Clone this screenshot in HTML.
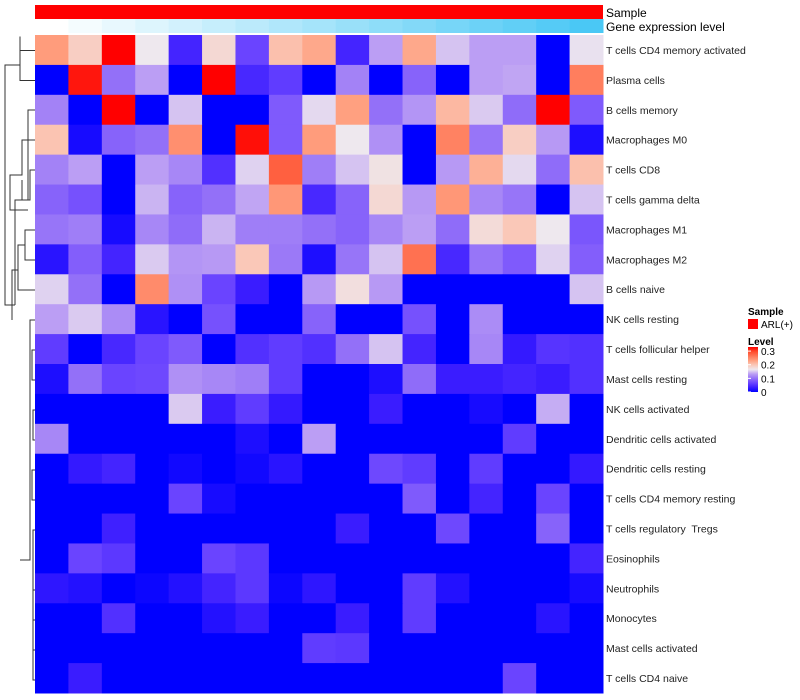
<!DOCTYPE html>
<html><head><meta charset="utf-8">
<style>
body{margin:0;background:#fff;}
svg{display:block;font-family:"Liberation Sans",sans-serif;}
text{white-space:pre;}
</style></head>
<body>
<svg id="chart" width="800" height="700">
<g id="dendro" stroke="#333" fill="none" stroke-width="1">
<path d="M35 50.5H20V36.5M20 50.5V80.5H35M20 65H5V305H15"/>
<path d="M35 110H28V200H15V305"/>
<path d="M35 140H22V175H10V210H28"/>
<path d="M35 170H30V200H22V180"/>
<path d="M35 230H25V260H35M25 245H18V290H35M18 270H12V320"/>
<path d="M35 320H30V560H20M35 350H32V380H35M35 410H33V440H35"/>
<path d="M35 470H32V500H35M35 530H33V680H35M35 590H33M35 620H33M35 650H33"/>
</g>
<g id="cells"></g>
<g id="annot"></g>
<g id="labels"></g>
<g id="legend"></g>
</svg>
<script>
const rowNames=["T cells CD4 memory activated","Plasma cells","B cells memory","Macrophages M0","T cells CD8","T cells gamma delta","Macrophages M1","Macrophages M2","B cells naive","NK cells resting","T cells follicular helper","Mast cells resting","NK cells activated","Dendritic cells activated","Dendritic cells resting","T cells CD4 memory resting","T cells regulatory  Tregs","Eosinophils","Neutrophils","Monocytes","Mast cells activated","T cells CD4 naive"];
const r1=[0.71,0.58,1,0.5,0.12,0.55,0.2,0.62,0.68,0.12,0.4,0.68,0.45,0.4,0.4,0,0.49];
const r2=[0,0.97,0.3,0.4,0,1,0.13,0.18,0,0.34,0,0.27,0,0.4,0.41,0,0.78];
const r3=[0.34,0,1,0,0.45,0,0,0.25,0.48,0.7,0.3,0.38,0.64,0.46,0.29,1,0.25];
const r4=[0.61,0.04,0.27,0.3,0.74,0,0.98,0.25,0.71,0.5,0.37,0,0.77,0.31,0.58,0.39,0.05];
const r5=[0.34,0.4,0,0.4,0.35,0.15,0.47,0.85,0.33,0.45,0.52,0,0.39,0.66,0.48,0.29,0.62];
const r6=[0.27,0.23,0,0.43,0.27,0.3,0.41,0.72,0.13,0.27,0.55,0.39,0.72,0.35,0.31,0,0.45];
const r7=[0.31,0.33,0.04,0.35,0.29,0.43,0.33,0.33,0.3,0.27,0.35,0.4,0.29,0.54,0.6,0.5,0.24];
const r8=[0.07,0.26,0.12,0.46,0.38,0.39,0.6,0.32,0.05,0.31,0.45,0.81,0.13,0.31,0.25,0.47,0.26];
const r9=[0.47,0.3,0,0.75,0.37,0.2,0.1,0,0.39,0.53,0.39,0,0,0,0,0,0.45];
const r10=[0.4,0.46,0.36,0.07,0,0.23,0,0,0.27,0,0,0.23,0,0.36,0,0,0];
const r11=[0.18,0,0.13,0.2,0.25,0,0.15,0.18,0.15,0.3,0.45,0.12,0,0.35,0.09,0.16,0.15];
const r12=[0.05,0.3,0.2,0.21,0.37,0.35,0.33,0.18,0,0,0.05,0.29,0.1,0.1,0.12,0.1,0.15];
const r13=[0,0,0,0,0.46,0.1,0.18,0.09,0,0,0.1,0,0,0.04,0,0.42,0];
const r14=[0.35,0,0,0,0,0,0.05,0,0.4,0,0,0,0,0,0.18,0,0];
const r15=[0,0.09,0.12,0,0.03,0,0.03,0.07,0,0,0.21,0.18,0,0.18,0,0,0.09];
const r16=[0,0,0,0,0.2,0.04,0,0,0,0,0,0.25,0,0.12,0,0.2,0];
const r17=[0,0,0.11,0,0,0,0,0,0,0.1,0,0,0.21,0,0,0.27,0];
const r18=[0,0.2,0.17,0,0,0.2,0.17,0,0,0,0,0,0,0,0,0,0.12];
const r19=[0.08,0.06,0,0.02,0.06,0.12,0.17,0.02,0.08,0,0,0.18,0.06,0,0,0,0.04];
const r20=[0,0,0.15,0,0,0.06,0.1,0,0,0.1,0,0.18,0,0,0,0.07,0];
const r21=[0,0,0,0,0,0,0,0,0.18,0.17,0,0,0,0,0,0,0];
const r22=[0,0.1,0,0,0,0,0,0,0,0,0,0,0,0,0.2,0,0];
const rowsT=[r1,r2,r3,r4,r5,r6,r7,r8,r9,r10,r11,r12,r13,r14,r15,r16,r17,r18,r19,r20,r21,r22];
const vmax=0.33;
const legendTicks=[0,0.1,0.2,0.3];
const NS="http://www.w3.org/2000/svg";
const anchors=[[0,0,255],[58,28,255],[106,68,255],[147,112,248],[187,158,244],[238,232,238],[250,200,184],[255,160,128],[255,117,85],[255,74,42],[255,0,0]];
function col(v){let t=Math.max(0,Math.min(1,v/vmax))*10;let i=Math.min(9,Math.floor(t));let f=t-i;const a=anchors[i],b=anchors[i+1];return `rgb(${a.map((x,k)=>Math.round(x+(b[k]-x)*f)).join(",")})`;}
const x0=35,x1=603,y0=35,y1=693;
const nC=17,nR=rowsT.length;
const cw=(x1-x0)/nC,rh=(y1-y0)/nR;
const xs=c=>x0+c*cw, ys=r=>y0+r*rh;
function mk(tag,attrs,parent){const e=document.createElementNS(NS,tag);for(const k in attrs)e.setAttribute(k,attrs[k]);parent.appendChild(e);return e;}
const cells=document.getElementById('cells');
rowsT.forEach((row,r)=>row.forEach((t,c)=>{
 const v=t*vmax;
 const e=mk('rect',{x:xs(c),y:ys(r),width:cw+0.5,height:rh+0.5,fill:col(v)},cells);
 
 
}));
const annot=document.getElementById('annot');
const s=mk('rect',{x:x0,y:5,width:x1-x0,height:14,fill:'#ff0000'},annot);


for(let c=0;c<nC;c++){
 const f=c/(nC-1);
 const r=Math.round(255+(74-255)*f),g=Math.round(255+(200-255)*f),b=Math.round(255+(245-255)*f);
 const e=mk('rect',{x:xs(c),y:19,width:cw+0.5,height:14,fill:`rgb(${r},${g},${b})`},annot);
 
 
}
const labels=document.getElementById('labels');
let t=mk('text',{x:606,y:17,'font-size':12,fill:'#000'},labels);t.textContent='Sample';


t=mk('text',{x:606,y:31,'font-size':12,fill:'#000'},labels);t.textContent='Gene expression level';


rowNames.forEach((n,r)=>{const e=mk('text',{x:606,y:ys(r)+rh/2+4,'font-size':10.5,fill:'#222'},labels);e.textContent=n;
 
 });
const lg=document.getElementById('legend');
t=mk('text',{x:748,y:315,'font-size':10,'font-weight':'bold'},lg);t.textContent='Sample';


t=mk('rect',{x:748,y:319,width:10,height:10,fill:'#ff0000'},lg);


t=mk('text',{x:761,y:328,'font-size':10},lg);t.textContent='ARL(+)';


t=mk('text',{x:748,y:345,'font-size':10,'font-weight':'bold'},lg);t.textContent='Level';


const lb0=392,lb1=347;
const grad=mk('defs',{},lg);const lgd=mk('linearGradient',{id:'lvg',x1:0,y1:1,x2:0,y2:0},grad);
anchors.forEach((a,i)=>mk('stop',{offset:i/10,'stop-color':`rgb(${a.join(',')})`},lgd));
t=mk('rect',{x:748,y:lb1,width:10,height:lb0-lb1,fill:'url(#lvg)'},lg);


const ly=v=>lb0-(v/vmax)*(lb0-lb1);
legendTicks.forEach(v=>{const e=mk('text',{x:761,y:ly(v)+4,'font-size':10},lg);e.textContent=String(v);
 
 
 mk('line',{x1:748,x2:751,y1:ly(v),y2:ly(v),stroke:'#fff'},lg);});
</script>
</body></html>
